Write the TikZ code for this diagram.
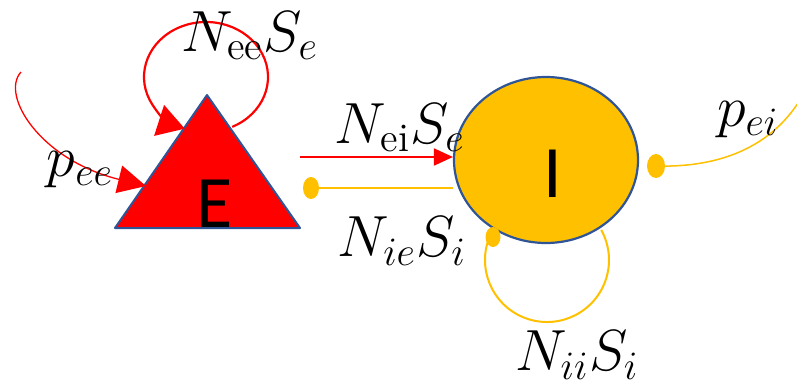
\documentclass[tikz,border=0pt]{standalone}
\usepackage{fontspec}
\newfontfamily\calfont{Carlito}
\usetikzlibrary{arrows.meta,shapes.geometric,backgrounds}
\definecolor{eRed}{RGB}{255,0,0}
\definecolor{iGold}{RGB}{255,192,0}
\definecolor{edgeBlue}{RGB}{47,85,151}
\begin{document}
\begin{tikzpicture}[x=1pt,y=1pt,
  mlabel/.style={font=\huge, scale=2.8, inner sep=0pt},
  bigletter/.style={font=\calfont\fontsize{74}{80}\selectfont, inner sep=0pt},
  exc/.style={draw=eRed, line width=2pt},
  inh/.style={draw=iGold, line width=2pt},
  dotnode/.style={ellipse, fill=iGold, minimum width=16pt, minimum height=22pt, inner sep=0pt},
  bigtip/.style={-{Triangle[length=27pt,width=32pt]}},
]
\useasboundingbox (0,0) rectangle (797,-391);

% E population (triangle)
\coordinate (tL) at (115,-228);
\coordinate (tR) at (300,-228);
\coordinate (tA) at (207,-95);
\filldraw[fill=eRed, draw=edgeBlue, line width=2pt, line join=round] (tL) -- (tR) -- (tA) -- cycle;
\node[bigletter] (E) at (215,-204) {E};

% I population (ellipse)
\node[ellipse, fill=iGold, draw=edgeBlue, line width=2.2pt, minimum width=184pt, minimum height=166pt, inner sep=0pt] (I) at (546,-160) {};
\node[bigletter] (Ilab) at (553,-174) {I};

\begin{scope}[on background layer]
  % I self loop
  \coordinate (iiC) at (547,-260);
  \draw[inh] (iiC) ++(157:62) arc[start angle=157, end angle=389, radius=62];
  % I -> E inhibitory line
  \node[dotnode] (dIE) at (311,-188) {};
  \draw[inh] (dIE.center) -- (dIE.center -| I.west);
\end{scope}

% dots on I
\node[dotnode, minimum width=15pt, minimum height=20pt] (dII) at (493,-237) {};
\node[dotnode, minimum width=18pt, minimum height=24pt] (dEI) at (656,-166) {};
\coordinate (peiEnd) at (800,-100);
\draw[inh, line width=1.5pt] (dEI.center) .. controls (730,-168) and (775,-140) .. (peiEnd);

% E self loop
\coordinate (eeC) at (206,-77);
\draw[exc, line width=2.2pt, bigtip] (eeC) ++(-65:62 and 55) arc[start angle=-65, end angle=250, x radius=62, y radius=55];

% external input to E
\coordinate (peeS) at (21,-72);
\coordinate (peeEnd) at (146,-186);
\draw[exc, line width=1.3pt, -{Triangle[length=28pt,width=28pt]}] (peeS) .. controls (0,-95) and (40,-160) .. (peeEnd);

% E -> I
\coordinate (eiS) at (300,-157);
\draw[exc, -{Triangle[length=19pt,width=17pt]}] (eiS) -- (eiS -| I.west);

% labels
\node[mlabel] (lNee) at (250,-36) {$N_{\mathrm{ee}}S_e$};
\node[mlabel] (lpee) at (80,-170) {$p_{ee}$};
\node[mlabel] (lNei) at (400,-128) {$N_{\mathrm{ei}}S_e$};
\node[mlabel] (lNie) at (402,-241) {$N_{ie}S_i$};
\node[mlabel] (lNii) at (577,-355) {$N_{ii}S_i$};
\node[mlabel] (lpei) at (748,-120) {$p_{ei}$};
\end{tikzpicture}
\end{document}
